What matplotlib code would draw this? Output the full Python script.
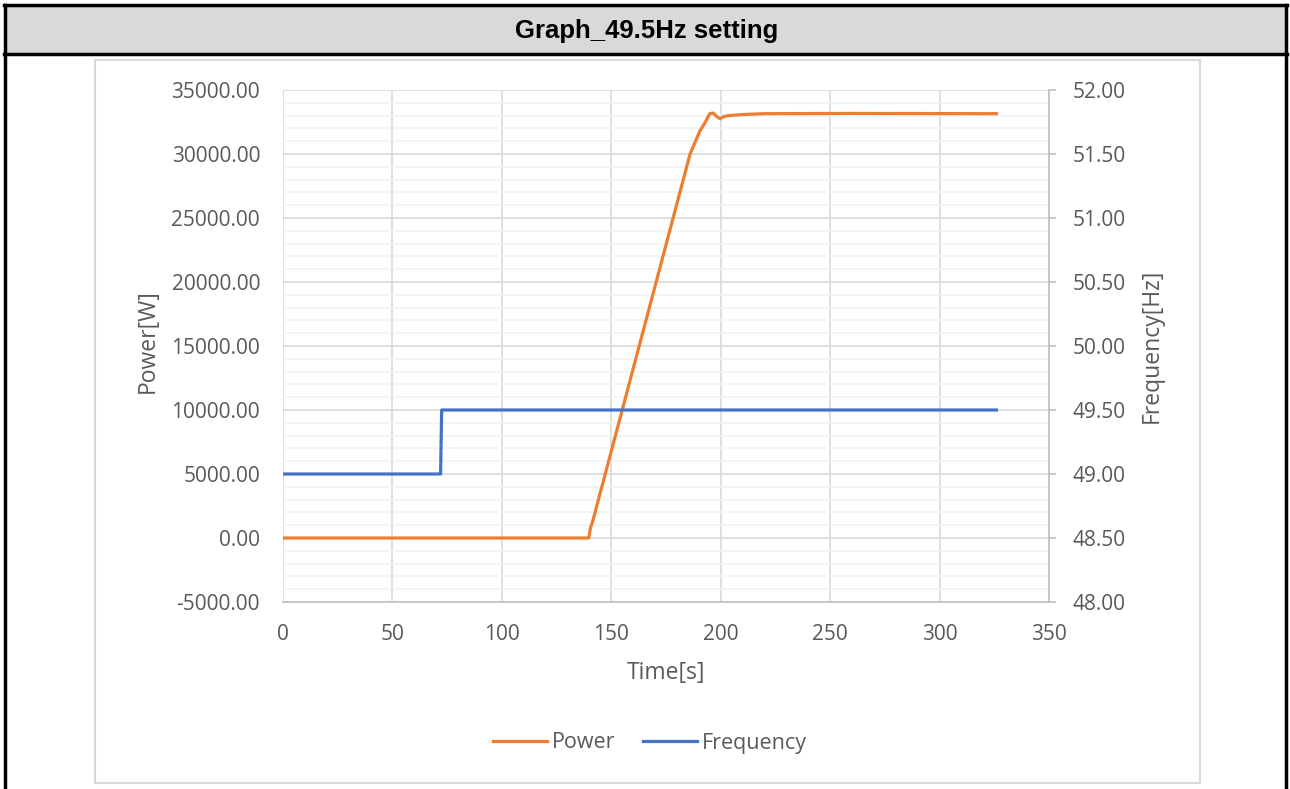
import matplotlib.pyplot as plt
from matplotlib import ticker
from matplotlib.patches import Rectangle
from matplotlib.lines import Line2D

# data
time_p = [0, 139.7, 140.5, 141.5, 155, 175, 186, 190.5, 193, 195, 196.5,
          198, 199.7, 201, 203, 210, 220, 260, 326]
power = [0, 0, 800, 1300, 10000, 22900, 30000, 31800, 32500, 33150, 33200,
         32950, 32750, 32900, 32990, 33080, 33150, 33170, 33150]
time_f = [0, 72, 72.5, 326]
freq = [49.0, 49.0, 49.5, 49.5]

W, H = 1290, 789
fig = plt.figure(figsize=(W / 100, H / 100), dpi=100)
plt.rcParams["font.family"] = ["Open Sans", "DejaVu Sans"]
txt = "#595959"
grid_major = "#d9d9d9"
grid_minor = "#f2f2f2"
orange = "#ED7D31"
blue = "#4472C4"

# header / frame
fig.patches.append(Rectangle((5 / W, 1 - 54 / H), (1287 - 5) / W, 48 / H,
                             transform=fig.transFigure, facecolor="#d9d9d9",
                             edgecolor="none", zorder=0))
for (x0, y0, x1, y1) in [(4, 5, 1287, 5), (4, 54, 1287, 54), (5, 5, 5, 789), (1286, 5, 1286, 789)]:
    fig.lines.append(Line2D([x0 / W, x1 / W], [1 - y0 / H, 1 - y1 / H],
                            transform=fig.transFigure, color="black", lw=2.5))
fig.text(647 / W, 1 - 31 / H, "Graph_49.5Hz setting", ha="center", va="center",
         fontsize=18.5, fontweight="bold", family=["Liberation Sans", "DejaVu Sans"])

# chart area border
fig.patches.append(Rectangle((95 / W, 1 - 783 / H), (1200 - 95) / W, (783 - 60) / H,
                             transform=fig.transFigure, facecolor="none",
                             edgecolor=grid_major, lw=1.5))

ax = fig.add_axes([283 / W, 1 - 602 / H, (1049 - 283) / W, (602 - 90) / H])
ax2 = ax.twinx()

ax.set_xlim(0, 350)
ax.set_ylim(-5000, 35000)
ax2.set_ylim(48, 52)

ax.xaxis.set_major_locator(ticker.MultipleLocator(50))
ax.yaxis.set_major_locator(ticker.MultipleLocator(5000))
ax.yaxis.set_minor_locator(ticker.MultipleLocator(1000))
ax.yaxis.set_major_formatter(ticker.FormatStrFormatter("%.2f"))
ax2.yaxis.set_major_locator(ticker.MultipleLocator(0.5))
ax2.yaxis.set_major_formatter(ticker.FormatStrFormatter("%.2f"))

ax.set_axisbelow(True)
ax.grid(which="minor", axis="y", color=grid_minor, lw=1.2)
ax.grid(which="major", axis="both", color=grid_major, lw=1.2)

for a in (ax, ax2):
    for s in a.spines.values():
        s.set_visible(False)
ax.spines["bottom"].set_visible(True)
ax.spines["bottom"].set_color("#bfbfbf")
ax.spines["bottom"].set_linewidth(1.2)
ax2.spines["right"].set_visible(True)
ax2.spines["right"].set_color("#bfbfbf")
ax2.spines["right"].set_linewidth(1.2)

ax.tick_params(axis="both", which="both", length=0, labelsize=15, labelcolor=txt)
ax.tick_params(axis="y", pad=16.5)
ax.tick_params(axis="x", pad=16)
ax2.tick_params(axis="y", which="major", length=5, color="#bfbfbf", width=1.2,
                labelsize=15, labelcolor=txt, pad=12)
ax2.tick_params(axis="y", which="minor", length=0)

ax.plot(time_p, power, color=orange, lw=2.3, label="Power", zorder=3)
ax2.plot(time_f, freq, color=blue, lw=2.3, label="Frequency", zorder=3)

ax.set_xlabel("Time[s]", fontsize=16.5, color=txt)
ax.set_ylabel("Power[W]", fontsize=16.5, color=txt)
ax2.set_ylabel("Frequency[Hz]", fontsize=16.5, color=txt, rotation=90)
ax.xaxis.set_label_coords(0.5, -(673 - 602) / 512)
ax.xaxis.label.set_va("center")
ax.yaxis.set_label_coords((148 - 283) / 766, 0.51)
ax.yaxis.label.set_va("center")
ax2.yaxis.set_label_coords((1152 - 283) / 766, 0.5)
ax2.yaxis.label.set_va("center")

handles = [Line2D([], [], color=orange, lw=2.3), Line2D([], [], color=blue, lw=2.3)]
fig.legend(handles, ["Power", "Frequency"], loc="center", ncol=2,
           bbox_to_anchor=(650 / W, 1 - 743 / H), frameon=False,
           fontsize=15.5, labelcolor=txt, handlelength=2.5, handletextpad=0.23,
           columnspacing=1.3)

fig.savefig("out.png", dpi=100)
